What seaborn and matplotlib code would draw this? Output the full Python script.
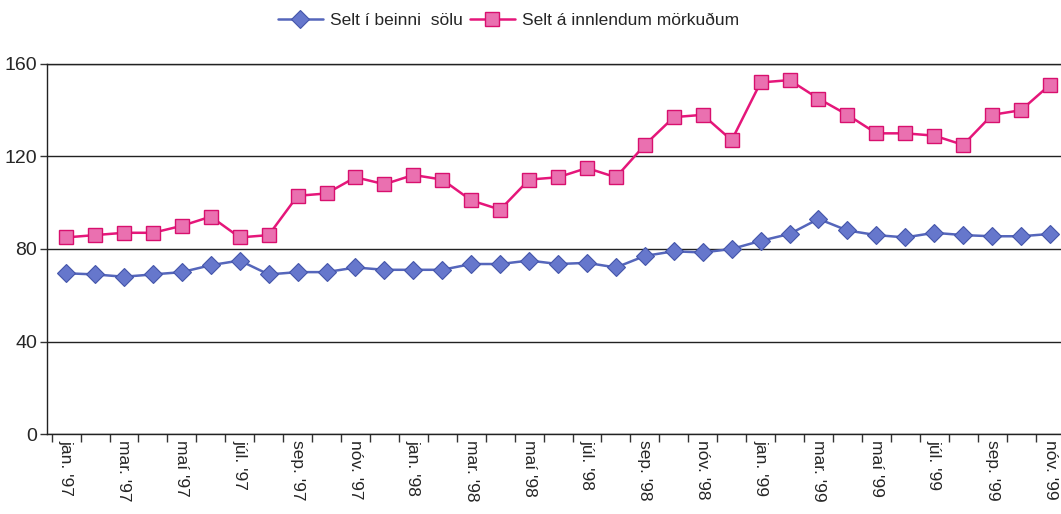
import numpy as np
import pandas as pd
import matplotlib
matplotlib.use('Agg')
import matplotlib.pyplot as plt
import seaborn as sns

# months jan '97 - nov '99
months = ["jan. '97", "feb. '97", "mar. '97", "apr. '97", "maí '97", "jún. '97",
          "júl. '97", "ágú. '97", "sep. '97", "okt. '97", "nóv. '97", "des. '97",
          "jan. '98", "feb. '98", "mar. '98", "apr. '98", "maí '98", "jún. '98",
          "júl. '98", "ágú. '98", "sep. '98", "okt. '98", "nóv. '98", "des. '98",
          "jan. '99", "feb. '99", "mar. '99", "apr. '99", "maí '99", "jún. '99",
          "júl. '99", "ágú. '99", "sep. '99", "okt. '99", "nóv. '99"]

beinni_solu = [69.5, 69, 68, 69, 70, 73, 75, 69, 70, 70, 72, 71,
               71, 71, 73.5, 73.5, 75, 73.5, 74, 72, 77, 79, 78.5, 80,
               83.5, 86.5, 93, 88, 86, 85, 87, 86, 85.5, 85.5, 86.5]
innlendum = [85, 86, 87, 87, 90, 94, 85, 86, 103, 104, 111, 108,
             112, 110, 101, 97, 110, 111, 115, 111, 125, 137, 138, 127,
             152, 153, 145, 138, 130, 130, 129, 125, 138, 140, 151]

label_blue = 'Selt í beinni  sölu'
label_pink = 'Selt á innlendum mörkuðum'

sns.set_style('white')
plt.rcParams['font.family'] = ['Liberation Sans', 'DejaVu Sans']

df = pd.DataFrame({'idx': np.arange(len(months)), 'blue': beinni_solu, 'pink': innlendum})

fig = plt.figure(figsize=(10.61, 5.14), dpi=100)
ax = fig.add_axes([0.0443, 0.1556, 0.9557, 0.72])

sns.lineplot(data=df, x='idx', y='blue', ax=ax, color='#5566bb', lw=1.8,
             marker='D', markersize=9, markerfacecolor='#6677cc',
             markeredgecolor='#4455aa', markeredgewidth=0.8, label=label_blue)
sns.lineplot(data=df, x='idx', y='pink', ax=ax, color='#e5167a', lw=1.8,
             marker='s', markersize=9.5, markerfacecolor='#ea70b0',
             markeredgecolor='#d8106e', markeredgewidth=1.0, label=label_pink)

ax.set_xlim(-0.66, 34.38)
ax.set_ylim(0, 160)
ax.set_yticks([0, 40, 80, 120, 160])
ax.yaxis.grid(True, color='#222222', lw=1.0)
ax.set_axisbelow(True)

ax.set_xticks(np.arange(len(months)) - 0.5, minor=True)
ax.set_xticks(np.arange(0, len(months), 2))
ax.set_xticklabels(months[::2], rotation=-90, fontsize=12.5, va='top', ha='center')
ax.tick_params(axis='x', which='both', length=6, width=1, color='#333333',
               direction='out', bottom=True)
ax.tick_params(axis='x', which='major', length=0, pad=4)
ax.tick_params(axis='y', length=5, width=1, color='#333333', left=True, labelsize=14, pad=2)

for side in ['right']:
    ax.spines[side].set_visible(False)
for side in ['left', 'bottom', 'top']:
    ax.spines[side].set_color('#222222')
    ax.spines[side].set_linewidth(1.0)
ax.set_xlabel('')
ax.set_ylabel('')

ax.legend_.remove()
h, l = ax.get_legend_handles_labels()
fig.legend(h, l, loc='center', bbox_to_anchor=(0.479, 0.961), ncol=2, frameon=False,
           handlelength=2.6, columnspacing=0.4, handletextpad=0.4,
           prop={'family': ['Liberation Sans Narrow', 'Liberation Sans'], 'size': 12.5})

fig.savefig('out.png', dpi=100)
